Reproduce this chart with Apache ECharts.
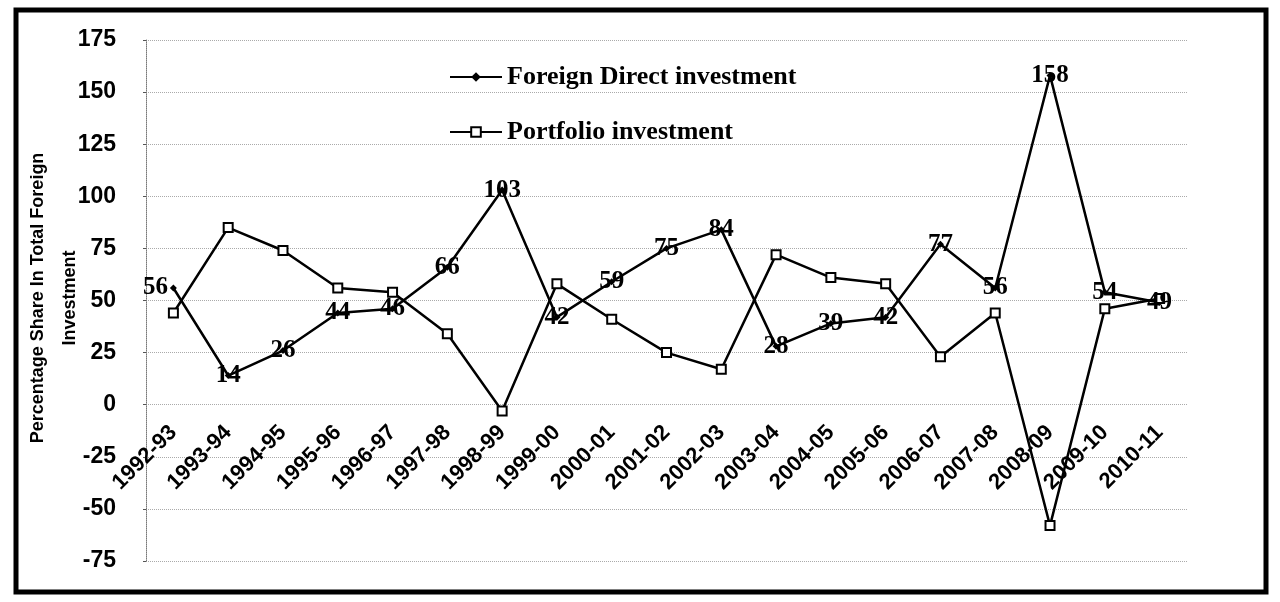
<!DOCTYPE html>
<html>
<head>
<meta charset="utf-8">
<script src="https://cdn.jsdelivr.net/npm/echarts@6/dist/echarts.min.js"></script>
<style>
  html, body { margin: 0; padding: 0; background: #fff; }
  #chart { width: 1280px; height: 602px; }
</style>
</head>
<body>
<div id="chart"></div>
<script>
  // 年度
  var years = ['1992-93','1993-94','1994-95','1995-96','1996-97','1997-98','1998-99','1999-00','2000-01',
    '2001-02','2002-03','2003-04','2004-05','2005-06','2006-07','2007-08','2008-09','2009-10','2010-11'];
  var fdi = [56, 14, 26, 44, 46, 66, 103, 42, 59, 75, 84, 28, 39, 42, 77, 56, 158, 54, 49];
  var portfolio = [44, 85, 74, 56, 54, 34, -3, 58, 41, 25, 17, 72, 61, 58, 23, 44, -58, 46, 51];
  var yTicks = [-75, 175, 25];
  var yName = 'Percentage Share In Total Foreign\nInvestment';

  var chart = echarts.init(document.getElementById('chart'));

  var option = {
    animation: false,
    backgroundColor: '#fff',
    graphic: [
      {
        type: 'rect',
        shape: {x: 16, y: 10, width: 1250, height: 582},
        style: {fill: 'none', stroke: '#000', lineWidth: 5}
      },
      {
        // 纵轴标题
        type: 'text',
        x: 54, y: 298,
        rotation: Math.PI / 2,
        style: {
          text: yName, align: 'center', verticalAlign: 'middle',
          fontFamily: 'Liberation Sans', fontWeight: 'bold', fontSize: 18, lineHeight: 32, fill: '#000'
        }
      }
    ],
    legend: {
      left: 444,
      top: 59,
      orient: 'vertical',
      itemWidth: 52,
      itemHeight: 12,
      itemGap: 29,
      textStyle: {fontFamily: 'Liberation Serif', fontWeight: 'bold', fontSize: 26, color: '#000'},
      data: ['Foreign Direct investment', 'Portfolio investment']
    },
    grid: {left: 146, right: 93, top: 40, bottom: 41},
    xAxis: {
      type: 'category',
      data: years,
      offset: -156,
      axisLine: {show: false, onZero: false},
      axisTick: {show: false},
      axisLabel: {
        rotate: 45, margin: 24, interval: 0,
        fontFamily: 'Liberation Sans', fontWeight: 'bold', fontSize: 22, color: '#000'
      }
    },
    yAxis: {
      type: 'value',
      min: yTicks[0], max: yTicks[1], interval: yTicks[2],
      axisLine: {show: true, lineStyle: {color: '#777', type: 'dotted', width: 1}},
      axisTick: {show: true, length: 3, lineStyle: {color: '#555'}},
      axisLabel: {margin: 30, fontFamily: 'Liberation Sans', fontWeight: 'bold', fontSize: 23, color: '#000'},
      splitLine: {show: true, lineStyle: {color: '#aaa', type: 'dotted', width: 1}}
    },
    series: [
      {
        name: 'Foreign Direct investment',
        type: 'line',
        symbol: 'diamond',
        symbolSize: 7,
        itemStyle: {color: '#000'},
        lineStyle: {color: '#000', width: 2.5},
        label: {
          show: true, position: 'inside',
          fontFamily: 'Liberation Serif', fontWeight: 'bold', fontSize: 25, color: '#000'
        },
        data: fdi.map(function (v, i) {
          return i === 0 ? {value: v, label: {offset: [-18, 0]}} : v;
        })
      },
      {
        name: 'Portfolio investment',
        type: 'line',
        symbol: 'rect',
        symbolSize: 9,
        itemStyle: {color: '#fff', borderColor: '#000', borderWidth: 2},
        lineStyle: {color: '#000', width: 2.5},
        data: portfolio
      }
    ]
  };

  chart.setOption(option);
  window.addEventListener('resize', function () {
    chart.resize();
  });
</script>
</body>
</html>
